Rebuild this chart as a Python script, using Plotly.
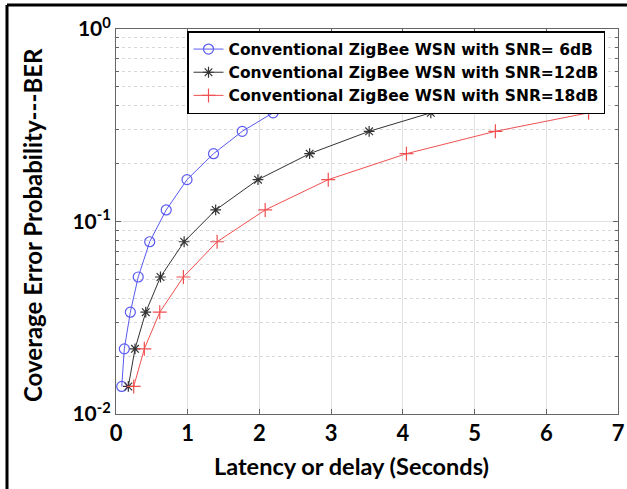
import plotly.graph_objects as go

# Data
ber = [0.0139, 0.0218, 0.0338, 0.0515, 0.0785, 0.1148, 0.165, 0.225, 0.294, 0.367]
lat_6db = [0.08, 0.116, 0.2, 0.31, 0.47, 0.70, 0.99, 1.36, 1.76, 2.19]
lat_12db = [0.172, 0.265, 0.415, 0.62, 0.95, 1.39, 1.98, 2.70, 3.53, 4.39]
lat_18db = [0.247, 0.395, 0.61, 0.94, 1.41, 2.08, 2.96, 4.05, 5.29, 6.59]
names = ["Conventional ZigBee WSN with SNR= 6dB",
         "Conventional ZigBee WSN with SNR=12dB",
         "Conventional ZigBee WSN with SNR=18dB"]
x_ticks = [0, 1, 2, 3, 4, 5, 6, 7]
y_ticks = [0.01, 0.1, 1]
y_ticktext = ["10<sup>-2</sup>", "10<sup>-1</sup>", "10<sup>0</sup>"]
minor_vals = [k * 10 ** e for e in (-2, -1) for k in range(2, 10)]
x_title = "Latency or delay (Seconds)"
y_title = "Coverage Error Probability---BER"

FONT = "Lato"
W, H = 627, 489
L, R, T, B = 116, 618, 29, 414

fig = go.Figure()
styles = [
    dict(color="#5a5af0", symbol="circle-open", size=10),
    dict(color="#333333", symbol="asterisk-open", size=9),
    dict(color="#f05050", symbol="cross-thin-open", size=10),
]
for lat, name, st in zip([lat_6db, lat_12db, lat_18db], names, styles):
    fig.add_trace(go.Scatter(
        x=lat, y=ber, name=name, mode="lines+markers",
        line=dict(color=st["color"], width=1),
        marker=dict(symbol=st["symbol"], size=st["size"], color=st["color"],
                    line=dict(color=st["color"], width=1.2)),
    ))

def px(xp):
    return (xp - L) / (R - L)

def py(yp):
    return (B - yp) / (B - T)

fig.update_layout(
    width=W, height=H,
    margin=dict(l=L, r=W - R, t=T, b=H - B, autoexpand=False),
    paper_bgcolor="white", plot_bgcolor="white",
    font=dict(family=FONT, color="black"),
    showlegend=True,
    legend=dict(
        x=px(187), y=py(31), xanchor="left", yanchor="top",
        bgcolor="white", bordercolor="black", borderwidth=1.5,
        font=dict(family="DejaVu Sans", size=15.5, color="black", weight="bold"),
        tracegroupgap=0, itemwidth=30,
    ),
    shapes=[
        dict(type="line", xref="paper", yref="paper", x0=px(7), x1=px(630), y0=py(5), y1=py(5),
             line=dict(color="black", width=3)),
        dict(type="line", xref="paper", yref="paper", x0=px(7), x1=px(7), y0=py(5), y1=py(492),
             line=dict(color="black", width=3)),
    ],
    annotations=[
        dict(text=x_title, xref="paper", yref="paper", x=px(351), y=py(466),
             xanchor="center", yanchor="middle", showarrow=False,
             font=dict(family=FONT, size=23.5, weight="bold", color="black")),
        dict(text=y_title, xref="paper", yref="paper", x=px(33), y=py(225),
             xanchor="center", yanchor="middle", showarrow=False, textangle=-90,
             font=dict(family=FONT, size=24, weight="bold", color="black")),
    ],
)
fig.update_xaxes(
    range=[0, 7], tickvals=x_ticks, ticks="inside", ticklen=5, tickcolor="#666",
    showline=True, linecolor="#666", linewidth=1, mirror="ticks", automargin=False,
    showgrid=True, gridcolor="#e2e2e2", gridwidth=1, zeroline=False,
    tickfont=dict(family=FONT, size=22, weight="bold"),
)
fig.update_yaxes(
    type="log", range=[-2, 0], tickvals=y_ticks, ticktext=y_ticktext,
    ticks="inside", ticklen=5, tickcolor="#666",
    showline=True, linecolor="#666", linewidth=1, mirror="ticks", automargin=False,
    showgrid=True, gridcolor="#e2e2e2", gridwidth=1, zeroline=False,
    tickfont=dict(family=FONT, size=21, weight="bold"),
    minor=dict(tickvals=minor_vals, ticks="inside", ticklen=3, tickcolor="#666",
               showgrid=True, gridcolor="#d8d8d8", griddash="dot", gridwidth=1),
)
fig.write_html("out.html")
